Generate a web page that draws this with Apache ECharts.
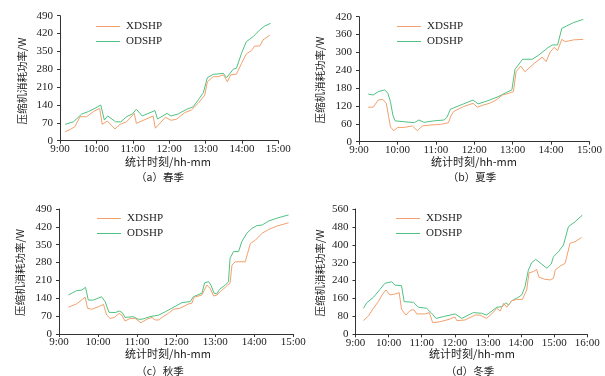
<!DOCTYPE html>
<html>
<head>
<meta charset="utf-8">
<script src="https://cdn.jsdelivr.net/npm/echarts@6/dist/echarts.min.js"></script>
<style>html,body{margin:0;padding:0;background:#fff;}#c{width:605px;height:376px;}</style>
</head>
<body>
<div id="c"></div>
<script>
// ---- data (time in decimal hours, power in W) ----
var springXDTime = [9.14, 9.28, 9.41, 9.55, 9.73, 9.92, 10.09, 10.16, 10.3, 10.51, 10.65, 10.83, 11.04, 11.1, 11.56, 11.62, 11.9, 12.05, 12.2, 12.43, 12.61, 12.8, 12.98, 13.05, 13.21, 13.35, 13.49, 13.6, 13.69, 13.85, 13.99, 14.12, 14.26, 14.35, 14.49, 14.58, 14.77];
var springXD = [35, 44, 55, 94, 94, 114, 127, 64, 77, 46, 64, 74, 107, 68, 97, 49, 92, 80, 84, 110, 120, 147, 179, 231, 251, 251, 258, 231, 258, 261, 303, 340, 353, 371, 371, 395, 414];
var springODTime = [9.14, 9.37, 9.6, 9.78, 9.96, 10.12, 10.22, 10.31, 10.53, 10.67, 10.83, 10.99, 11.1, 11.26, 11.61, 11.68, 11.94, 12.05, 12.25, 12.48, 12.66, 12.8, 12.94, 13.05, 13.21, 13.49, 13.58, 13.76, 13.85, 13.99, 14.12, 14.31, 14.49, 14.63, 14.79];
var springOD = [64, 74, 105, 114, 127, 140, 81, 97, 74, 74, 94, 105, 123, 97, 118, 85, 107, 97, 105, 123, 133, 160, 188, 247, 260, 264, 247, 280, 284, 343, 388, 408, 434, 450, 460];

var summerXDTime = [9.24, 9.37, 9.5, 9.62, 9.71, 9.77, 9.82, 9.9, 10.01, 10.18, 10.39, 10.52, 10.65, 10.86, 11.12, 11.33, 11.39, 11.46, 11.72, 11.97, 12.08, 12.23, 12.4, 12.57, 12.74, 12.91, 13.02, 13.09, 13.21, 13.32, 13.56, 13.77, 13.87, 13.98, 14.08, 14.17, 14.28, 14.37, 14.58, 14.84];
var summerXD = [116, 116, 140, 142, 129, 86, 50, 37, 48, 48, 53, 37, 53, 56, 58, 64, 86, 101, 118, 129, 116, 123, 129, 140, 157, 163, 168, 235, 254, 235, 263, 284, 269, 302, 317, 306, 344, 336, 342, 344];
var summerODTime = [9.24, 9.37, 9.5, 9.67, 9.75, 9.82, 9.88, 9.94, 10.18, 10.44, 10.56, 10.69, 10.95, 11.22, 11.29, 11.38, 11.72, 11.97, 12.1, 12.36, 12.62, 12.83, 12.98, 13.06, 13.26, 13.51, 13.68, 13.9, 14.03, 14.17, 14.28, 14.41, 14.58, 14.84];
var summerOD = [160, 157, 168, 174, 163, 134, 90, 70, 67, 64, 73, 65, 70, 73, 82, 109, 127, 140, 127, 138, 151, 165, 174, 243, 277, 277, 291, 314, 325, 325, 381, 389, 400, 411];

var autumnXDTime = [9.24, 9.45, 9.67, 9.73, 9.84, 10.01, 10.14, 10.22, 10.31, 10.42, 10.54, 10.61, 10.69, 10.82, 10.95, 11.1, 11.25, 11.38, 11.46, 11.55, 11.67, 11.8, 11.93, 12.1, 12.32, 12.4, 12.46, 12.66, 12.72, 12.79, 12.87, 12.96, 13.04, 13.13, 13.26, 13.32, 13.38, 13.43, 13.51, 13.77, 13.83, 13.9, 14.03, 14.2, 14.37, 14.58, 14.88];
var autumnXD = [105, 118, 144, 101, 97, 107, 116, 74, 61, 65, 81, 74, 51, 61, 61, 44, 58, 65, 55, 55, 68, 81, 97, 101, 118, 120, 144, 153, 172, 192, 179, 149, 152, 166, 183, 192, 199, 270, 283, 283, 316, 355, 368, 395, 410, 423, 436];
var autumnODTime = [9.24, 9.45, 9.58, 9.68, 9.75, 9.88, 10.09, 10.18, 10.28, 10.44, 10.54, 10.62, 10.69, 10.9, 11.03, 11.13, 11.33, 11.55, 11.72, 11.89, 12.15, 12.36, 12.44, 12.66, 12.73, 12.83, 12.89, 12.97, 13.04, 13.11, 13.26, 13.34, 13.38, 13.47, 13.6, 13.68, 13.81, 13.94, 14.07, 14.2, 14.37, 14.58, 14.88];
var autumnOD = [153, 170, 172, 183, 133, 133, 146, 127, 85, 84, 90, 84, 65, 68, 58, 58, 68, 74, 87, 101, 123, 127, 146, 160, 201, 205, 192, 160, 157, 175, 192, 205, 297, 323, 323, 362, 395, 414, 425, 427, 443, 454, 467];

var winterXDTime = [9.24, 9.39, 9.54, 9.69, 9.82, 9.92, 10.04, 10.19, 10.32, 10.39, 10.52, 10.67, 10.77, 10.85, 11.1, 11.23, 11.33, 11.55, 11.85, 12.0, 12.06, 12.31, 12.61, 12.76, 12.96, 13.11, 13.27, 13.37, 13.47, 13.57, 13.72, 13.87, 14.04, 14.17, 14.24, 14.37, 14.47, 14.54, 14.72, 14.88, 14.98, 15.03, 15.18, 15.33, 15.38, 15.48, 15.63, 15.83];
var winterXD = [61, 82, 116, 146, 180, 198, 176, 180, 186, 112, 86, 109, 109, 91, 91, 97, 52, 56, 68, 78, 61, 64, 86, 86, 71, 91, 116, 104, 138, 121, 150, 156, 156, 198, 275, 280, 290, 255, 246, 243, 250, 287, 305, 317, 320, 407, 414, 433];
var winterODTime = [9.24, 9.34, 9.54, 9.74, 9.89, 10.09, 10.19, 10.39, 10.47, 10.75, 10.9, 11.15, 11.3, 11.43, 11.65, 12.01, 12.21, 12.56, 12.81, 12.96, 13.27, 13.42, 13.54, 13.62, 13.72, 13.87, 14.02, 14.12, 14.22, 14.32, 14.44, 14.57, 14.78, 14.91, 14.98, 15.13, 15.28, 15.43, 15.63, 15.85];
var winterOD = [116, 141, 165, 201, 228, 235, 220, 217, 146, 143, 121, 116, 94, 71, 79, 91, 71, 97, 94, 86, 121, 123, 141, 131, 150, 161, 176, 213, 287, 320, 335, 320, 295, 314, 347, 369, 399, 481, 503, 533];

var seriesNames = ['XDSHP', 'ODSHP'];
var captions = ['（a）春季', '（b）夏季', '（c）秋季', '（d）冬季'];
var xAxisName = '统计时刻/hh-mm';
var yAxisName = '压缩机消耗功率/W';
var xMin = [9, 9, 9, 9], xMax = [15, 15, 15, 16];
var yMax = [490, 420, 490, 560], yStep = [70, 60, 70, 80];

// ---- layout ----
var grids = [
  {left: 60, top: 15.7, width: 218.3, height: 125},
  {left: 359, top: 16.7, width: 233.7, height: 125},
  {left: 59, top: 209, width: 234.3, height: 125},
  {left: 355.5, top: 209, width: 231.8, height: 125.3}
];
var legendPos = [{left: 96, top: 21}, {left: 397, top: 21}, {left: 97, top: 213}, {left: 396, top: 213}];
var xNamePos = [[168, 162], [474, 162], [168, 354], [472, 354]];
var yNamePos = [[22, 81], [320, 80], [20, 272.5], [320, 273]];
var capPos = [[160, 177], [472, 177], [160, 371.5], [470, 371.5]];

var ORANGE = '#F2A06C', GREEN = '#4FC283';
var FONT = '"Liberation Serif", "Times New Roman", "Noto Sans CJK SC", serif';
var CJK = '"Noto Sans CJK SC", "Liberation Serif", serif';
var TXT = '#222';

function zip(t, v) { return t.map(function (x, i) { return [x, v[i]]; }); }
var sets = [
  [zip(springXDTime, springXD), zip(springODTime, springOD)],
  [zip(summerXDTime, summerXD), zip(summerODTime, summerOD)],
  [zip(autumnXDTime, autumnXD), zip(autumnODTime, autumnOD)],
  [zip(winterXDTime, winterXD), zip(winterODTime, winterOD)]
];

var option = {animation: false, grid: [], xAxis: [], yAxis: [], series: [], legend: [], graphic: []};
for (var i = 0; i < 4; i++) {
  option.grid.push(grids[i]);
  option.xAxis.push({
    type: 'value', gridIndex: i, min: xMin[i], max: xMax[i], interval: 1,
    axisLine: {lineStyle: {color: '#333', width: 1}},
    axisTick: {show: true, inside: false, length: 3, lineStyle: {color: '#333'}},
    axisLabel: {margin: 3, color: TXT, fontFamily: FONT, fontSize: 11,
      formatter: function (v) { return Math.round(v) + ':00'; }},
    splitLine: {show: false}
  });
  option.yAxis.push({
    type: 'value', gridIndex: i, min: 0, max: yMax[i], interval: yStep[i],
    axisLine: {show: true, lineStyle: {color: '#333', width: 1}},
    axisTick: {show: true, inside: false, length: 3, lineStyle: {color: '#333'}},
    axisLabel: {margin: 7, color: TXT, fontFamily: FONT, fontSize: 11},
    splitLine: {show: false}
  });
  option.series.push({
    type: 'line', name: seriesNames[0], xAxisIndex: i, yAxisIndex: i, data: sets[i][0],
    symbol: 'none', lineStyle: {color: ORANGE, width: 1}, itemStyle: {color: ORANGE}, z: 3
  });
  option.series.push({
    type: 'line', name: seriesNames[1], xAxisIndex: i, yAxisIndex: i, data: sets[i][1],
    symbol: 'none', lineStyle: {color: GREEN, width: 1}, itemStyle: {color: GREEN}, z: 2
  });
  option.legend.push({
    orient: 'vertical', left: legendPos[i].left, top: legendPos[i].top,
    itemWidth: 24, itemHeight: 1, itemGap: 4, padding: 0,
    icon: 'rect',
    data: seriesNames,
    textStyle: {fontFamily: FONT, fontSize: 11, color: TXT, padding: [0, 0, 0, 1]}
  });
  option.graphic.push({
    type: 'text', x: xNamePos[i][0], y: xNamePos[i][1], silent: true,
    style: {text: xAxisName, fill: TXT, font: '11px ' + CJK, align: 'center', verticalAlign: 'middle'}
  });
  option.graphic.push({
    type: 'text', x: yNamePos[i][0], y: yNamePos[i][1], rotation: Math.PI / 2, silent: true,
    style: {text: yAxisName, fill: TXT, font: '10.5px ' + CJK, align: 'center', verticalAlign: 'middle'}
  });
  option.graphic.push({
    type: 'text', x: capPos[i][0], y: capPos[i][1], silent: true,
    style: {text: captions[i], fill: TXT, font: '10.5px ' + CJK, align: 'center', verticalAlign: 'middle'}
  });
}
var chart = echarts.init(document.getElementById('c'), null, {renderer: 'canvas'});
chart.setOption(option);
</script>
</body>
</html>
